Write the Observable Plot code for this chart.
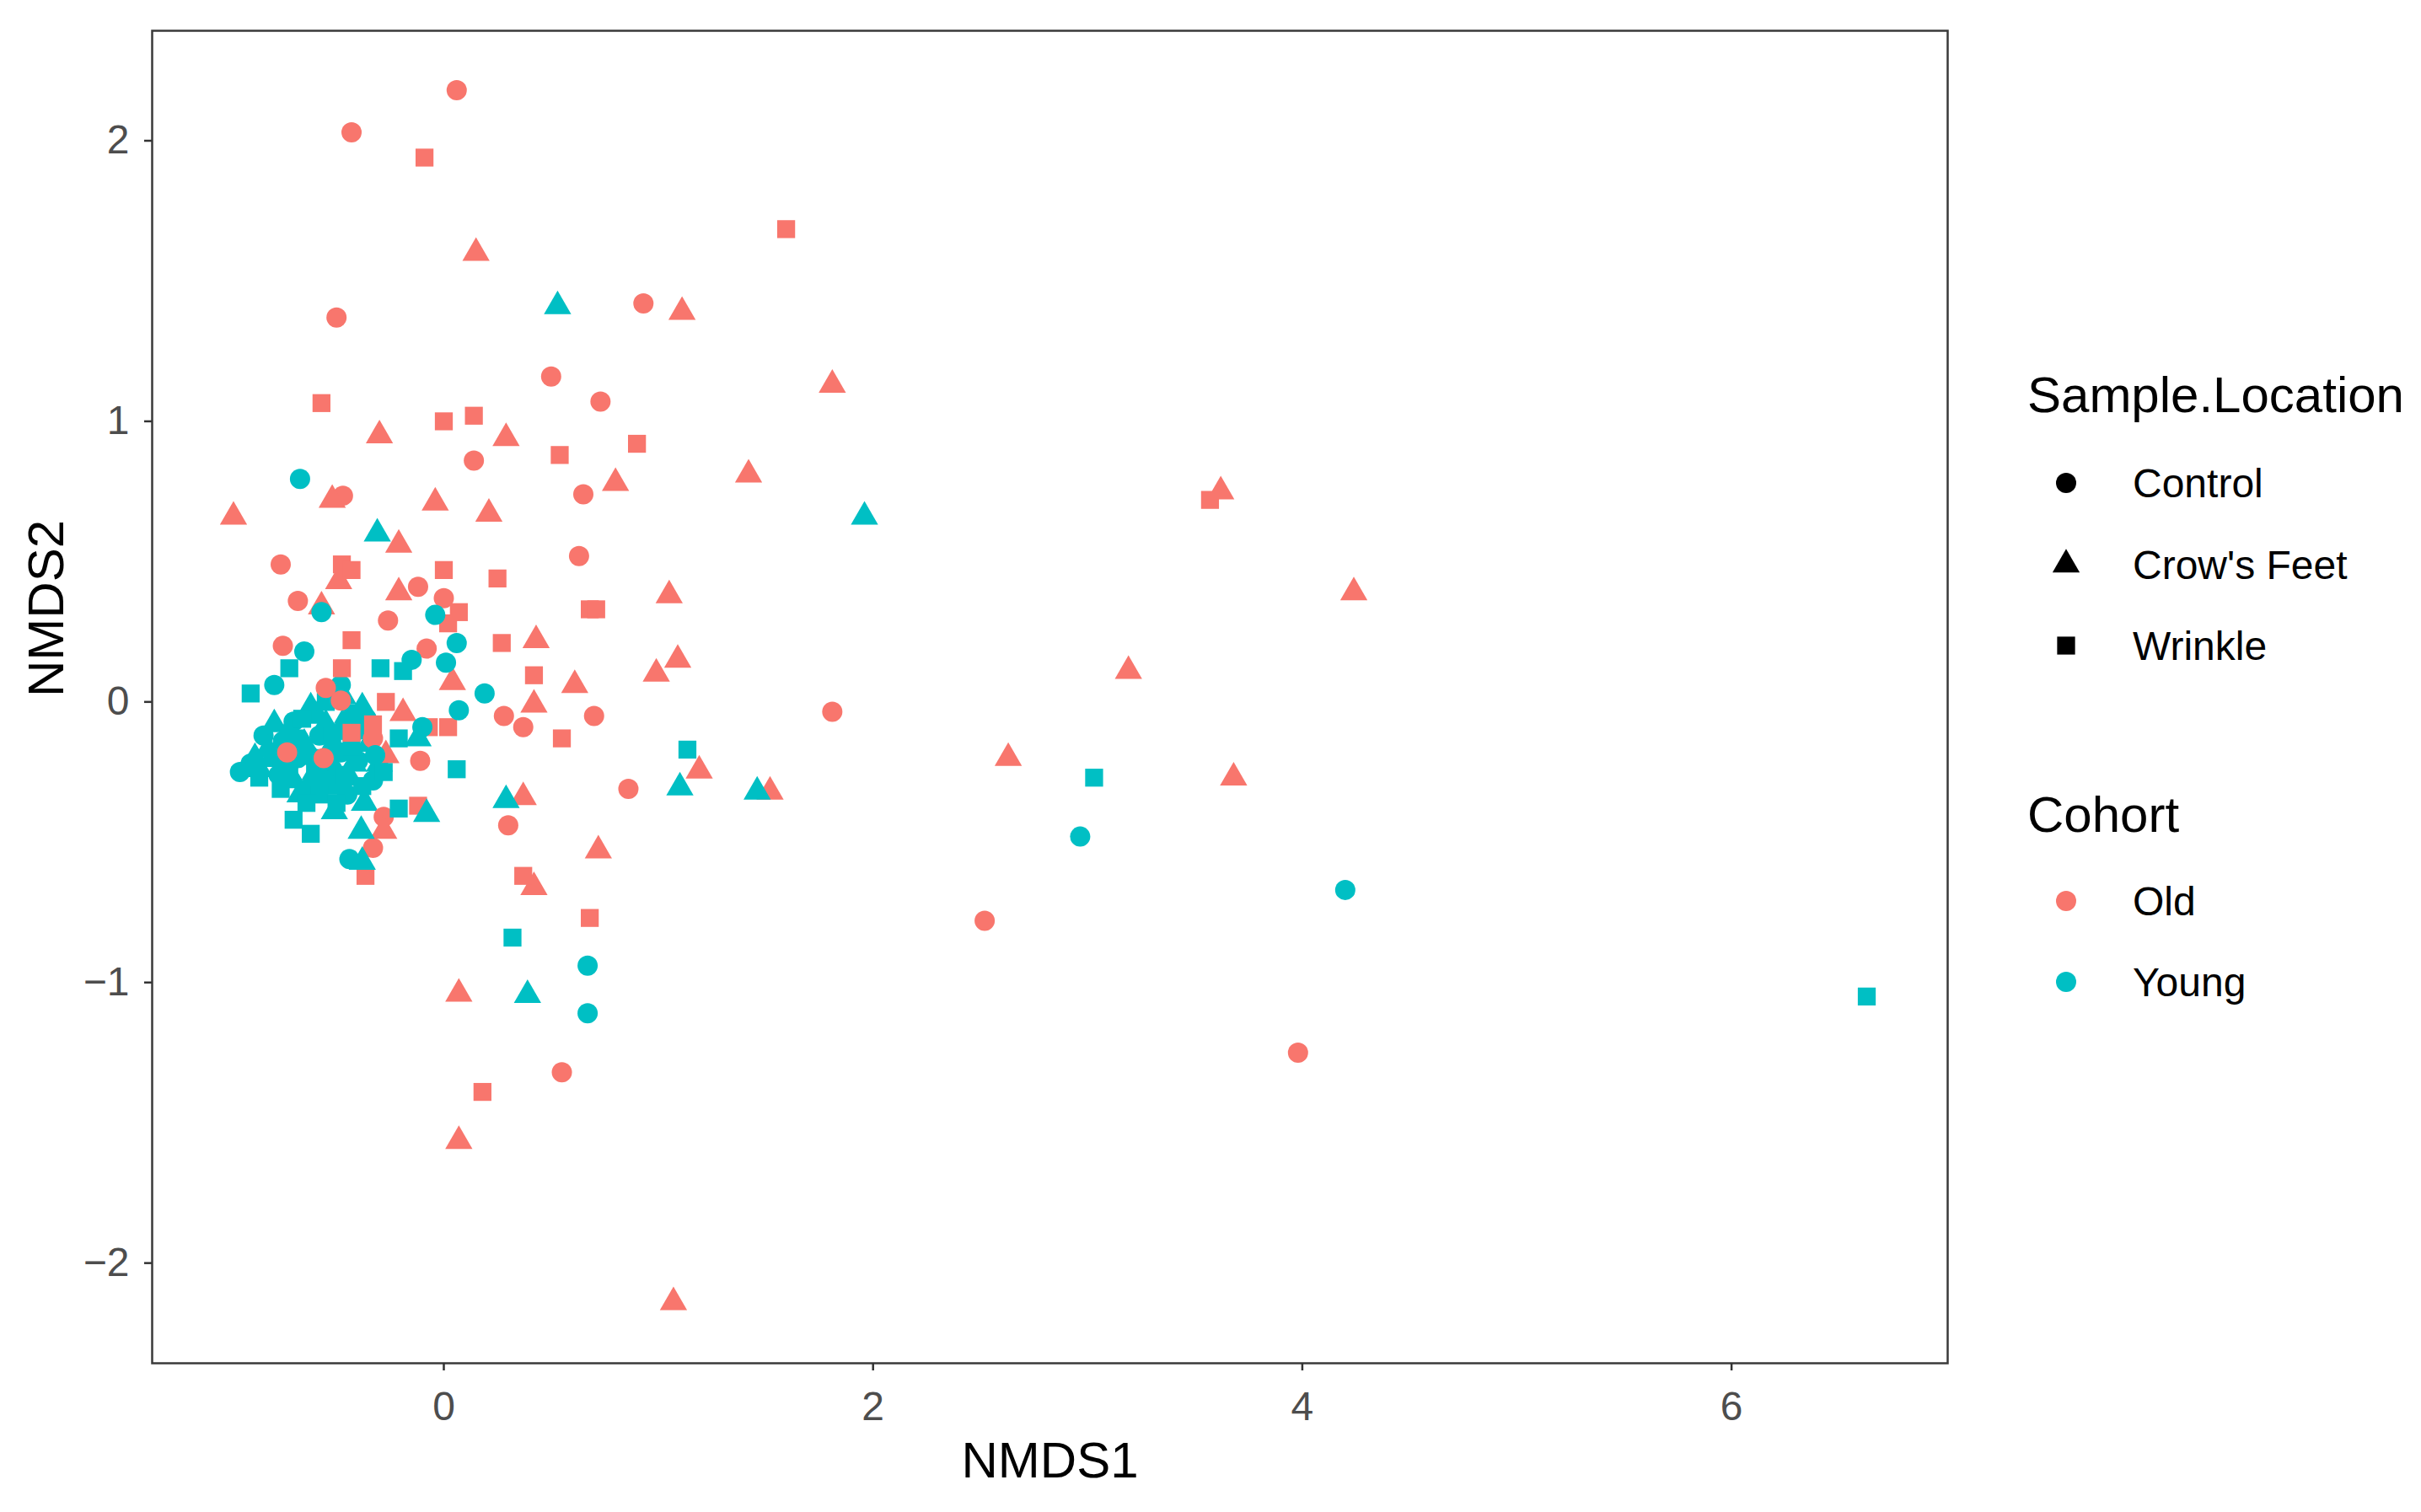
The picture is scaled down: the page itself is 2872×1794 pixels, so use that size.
<!DOCTYPE html>
<html>
<head>
<meta charset="utf-8">
<script src="https://cdn.jsdelivr.net/npm/d3@7"></script>
<script src="https://cdn.jsdelivr.net/npm/@observablehq/plot@0.6"></script>
<style>
  html, body { margin: 0; padding: 0; background: #ffffff; }
  #wrap { position: relative; width: 2872px; height: 1794px; font-family: "Liberation Sans", Arial, Helvetica, sans-serif; }
  #legend { position: absolute; left: 0; top: 0; }
</style>
</head>
<body>
<div id="wrap"><div id="chart"></div><svg id="legend" width="2872" height="1794"></svg></div>
<script>
// ---- categories ----
const cohorts = ["Old", "Young"];
const cohortColors = ["#F8766D", "#00BFC4"];
const locations = ["Control", "Crow's Feet", "Wrinkle"];
const locationSymbols = ["circle", "triangle", "square"];
const xTicks = [0, 2, 4, 6];
const yTicks = [-2, -1, 0, 1, 2];

// ---- Young, dense core cluster (drawn first) [NMDS1, NMDS2] ----
const youngCoreControl = [
  [-0.90, -0.22], [-0.68, -0.20], [-0.58, -0.12], [-0.48, -0.18], [-0.40, -0.10],
  [-0.62, -0.30], [-0.52, -0.24], [-0.75, -0.14], [-0.33, -0.28], [-0.45, -0.33],
  [-0.48, 0.06], [-0.84, -0.12], [-0.77, -0.26], [-0.70, -0.07], [-0.63, -0.19],
  [-0.55, -0.28], [-0.47, -0.10], [-0.40, -0.21], [-0.36, -0.06]
];
const youngCoreCrowsFeet = [
  [-0.82, -0.17], [-0.72, -0.10], [-0.62, -0.02], [-0.55, -0.08], [-0.45, -0.05],
  [-0.38, -0.02], [-0.60, -0.25], [-0.50, -0.30], [-0.42, -0.22], [-0.35, -0.15],
  [-0.70, -0.28], [-0.86, -0.24], [-0.30, -0.22], [-0.65, -0.15], [-0.88, -0.20],
  [-0.79, -0.08], [-0.74, -0.20], [-0.67, -0.33], [-0.59, -0.05], [-0.53, -0.17],
  [-0.44, -0.27], [-0.37, -0.36], [-0.47, 0.02]
];
const youngCoreWrinkle = [
  [-0.80, -0.20], [-0.66, -0.06], [-0.56, -0.20], [-0.46, -0.26], [-0.58, -0.33],
  [-0.72, -0.24], [-0.38, -0.30], [-0.52, -0.12], [-0.64, -0.36], [-0.42, -0.04],
  [-0.86, -0.27], [-0.76, -0.31], [-0.69, -0.13], [-0.60, -0.22], [-0.50, -0.36],
  [-0.43, -0.16], [-0.34, -0.10], [-0.55, 0.00]
];

// ---- Old ----
const oldControl = [
  [0.06, 2.18], [-0.43, 2.03], [-0.50, 1.37], [0.93, 1.42], [0.50, 1.16],
  [0.73, 1.07], [0.14, 0.86], [0.65, 0.74], [-0.47, 0.735], [0.63, 0.52],
  [-0.76, 0.49], [-0.68, 0.36], [-0.12, 0.41], [0.00, 0.37], [-0.26, 0.29],
  [-0.75, 0.20], [-0.08, 0.19], [-0.55, 0.05], [-0.48, 0.005], [0.28, -0.05],
  [0.37, -0.09], [0.70, -0.05], [1.81, -0.035], [-0.33, -0.13], [-0.11, -0.21],
  [-0.73, -0.18], [-0.56, -0.20], [0.30, -0.44], [0.86, -0.31], [-0.28, -0.41],
  [-0.33, -0.52], [0.55, -1.32], [2.52, -0.78], [3.98, -1.25]
];
const oldCrowsFeet = [
  [0.15, 1.60], [1.11, 1.39], [1.81, 1.13], [-0.30, 0.95], [0.29, 0.94],
  [0.80, 0.78], [1.42, 0.81], [-0.52, 0.72], [-0.04, 0.71], [0.21, 0.67],
  [-0.98, 0.66], [-0.21, 0.56], [-0.49, 0.43], [-0.21, 0.39], [-0.57, 0.34],
  [1.05, 0.38], [0.43, 0.22], [0.61, 0.06], [0.99, 0.10], [1.09, 0.15],
  [0.42, -0.01], [0.04, 0.07], [-0.19, -0.04], [-0.27, -0.19], [0.37, -0.34],
  [1.19, -0.245], [1.52, -0.32], [0.72, -0.53], [0.42, -0.66], [-0.28, -0.46],
  [0.07, -1.04], [0.07, -1.565], [1.07, -2.14], [3.62, 0.75], [4.24, 0.39],
  [3.19, 0.11], [2.63, -0.20], [3.68, -0.27]
];
const oldWrinkle = [
  [-0.09, 1.94], [1.595, 1.685], [-0.57, 1.065], [0.00, 1.00], [0.14, 1.02],
  [0.54, 0.88], [0.90, 0.92], [-0.475, 0.49], [-0.43, 0.47], [0.00, 0.47],
  [0.25, 0.44], [0.68, 0.33], [0.71, 0.33], [0.07, 0.32], [0.02, 0.28],
  [-0.43, 0.22], [0.27, 0.21], [-0.475, 0.12], [0.42, 0.095], [-0.27, 0.00],
  [-0.07, -0.09], [0.02, -0.09], [0.55, -0.13], [-0.12, -0.37], [0.37, -0.62],
  [-0.365, -0.62], [0.68, -0.77], [0.18, -1.39], [3.57, 0.72], [-0.43, -0.11],
  [-0.33, -0.08]
];

// ---- Young, outer points (drawn last) ----
const youngControl = [
  [-0.67, 0.795], [-0.57, 0.32], [-0.04, 0.31], [0.06, 0.21], [-0.65, 0.18],
  [-0.15, 0.15], [0.01, 0.14], [-0.79, 0.06], [0.19, 0.03], [0.07, -0.03],
  [-0.10, -0.09], [-0.32, -0.19], [-0.95, -0.25], [-0.44, -0.56], [0.67, -0.94],
  [0.67, -1.11], [2.965, -0.48], [4.20, -0.67]
];
const youngCrowsFeet = [
  [0.53, 1.41], [1.96, 0.66], [-0.31, 0.60], [-0.12, -0.13], [-0.08, -0.40],
  [0.29, -0.35], [1.10, -0.305], [1.46, -0.32], [-0.51, -0.39], [-0.385, -0.46],
  [-0.38, -0.57], [0.39, -1.045]
];
const youngWrinkle = [
  [-0.72, 0.12], [-0.295, 0.12], [-0.19, 0.11], [-0.90, 0.03], [-0.21, -0.13],
  [0.06, -0.24], [-0.28, -0.25], [-0.21, -0.38], [-0.70, -0.42], [-0.62, -0.47],
  [0.32, -0.84], [1.135, -0.17], [3.03, -0.27], [6.63, -1.05]
];

// ---- assemble rows in drawing order ----
const groups = [
  ["Young", "Control", youngCoreControl], ["Young", "Crow's Feet", youngCoreCrowsFeet], ["Young", "Wrinkle", youngCoreWrinkle],
  ["Old", "Control", oldControl], ["Old", "Crow's Feet", oldCrowsFeet], ["Old", "Wrinkle", oldWrinkle],
  ["Young", "Control", youngControl], ["Young", "Crow's Feet", youngCrowsFeet], ["Young", "Wrinkle", youngWrinkle]
];
const rows = groups.flatMap(([cohort, location, pts]) => pts.map(([x, y]) => ({x, y, cohort, location})));

const W = 2872, H = 1794;
const R = 12;
const font = '"Liberation Sans", Arial, Helvetica, sans-serif';
const fmt = d => (d < 0 ? "\u2212" + Math.abs(d) : String(d));

const chart = Plot.plot({
  width: W, height: H,
  marginLeft: 180, marginRight: 562, marginTop: 36, marginBottom: 177,
  style: {fontFamily: font, background: "#ffffff"},
  x: {domain: [-1.359, 7.007]},
  y: {domain: [-2.357, 2.392]},
  color: {domain: cohorts, range: cohortColors},
  symbol: {domain: locations, range: locationSymbols},
  marks: [
    Plot.dot(rows, {x: "x", y: "y", fill: "cohort", symbol: "location", r: R, stroke: "none"}),
    Plot.frame({stroke: "#3a3a3a", strokeWidth: 2.5}),
    Plot.axisX({ticks: xTicks, tickFormat: fmt, tickSize: 9, tickPadding: 24, fontSize: 48, color: "#4d4d4d", stroke: "#333", strokeWidth: 2.5, label: null}),
    Plot.axisY({ticks: yTicks, tickFormat: fmt, tickSize: 9, tickPadding: 18, fontSize: 48, color: "#4d4d4d", stroke: "#333", strokeWidth: 2.5, label: null}),
    Plot.text(["NMDS1"], {text: d => d, frameAnchor: "bottom", dy: 116, fontSize: 60, fill: "#000", lineAnchor: "middle"}),
    Plot.text(["NMDS2"], {text: d => d, frameAnchor: "left", dx: -125, rotate: -90, fontSize: 60, fill: "#000", lineAnchor: "middle"})
  ]
});
document.getElementById("chart").appendChild(chart);

// ---- legend (right side) ----
const lg = d3.select("#legend");
const area = Math.PI * R * R;
const symMap = {circle: d3.symbolCircle, triangle: d3.symbolTriangle, square: d3.symbolSquare};
function title(txt, y) {
  lg.append("text").attr("x", 2405).attr("y", y).attr("font-size", 60).attr("font-family", font).attr("fill", "#000").text(txt);
}
function entry(txt, y, sym, color) {
  lg.append("path").attr("d", d3.symbol(symMap[sym], area)()).attr("transform", `translate(2451,${y})`).attr("fill", color);
  lg.append("text").attr("x", 2530).attr("y", y + 17).attr("font-size", 48).attr("font-family", font).attr("fill", "#000").text(txt);
}
title("Sample.Location", 489);
const locY = [573, 670, 766];
locations.forEach((l, i) => entry(l, locY[i], locationSymbols[i], "#000"));
title("Cohort", 987);
const cohY = [1069, 1165];
cohorts.forEach((c, i) => entry(c, cohY[i], "circle", cohortColors[i]));
</script>
</body>
</html>
